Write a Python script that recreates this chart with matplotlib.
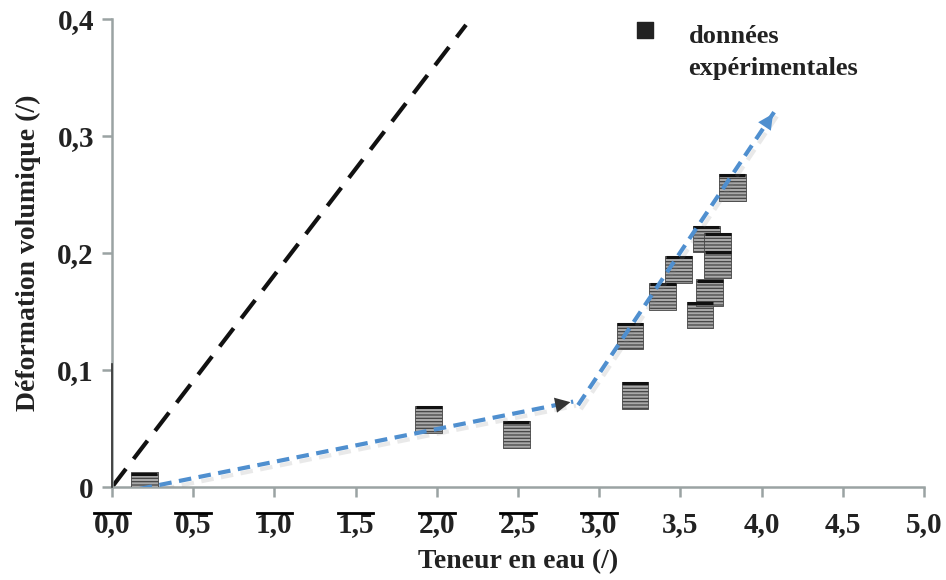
import numpy as np
import matplotlib
matplotlib.use("Agg")
import matplotlib.pyplot as plt
import matplotlib.patheffects as pe

plt.rcParams['font.family'] = ['Liberation Serif', 'DejaVu Serif']
plt.rcParams['hatch.color'] = '#2a2a2a'
plt.rcParams['hatch.linewidth'] = 0.9

# données expérimentales
teneur = [0.20, 1.95, 2.49, 3.22, 3.19, 3.39, 3.49, 3.62, 3.68, 3.66, 3.73, 3.73, 3.82]
deformation = [0.001, 0.058, 0.045, 0.078, 0.129, 0.163, 0.186, 0.147, 0.166, 0.212, 0.206, 0.190, 0.256]

# droite noire en tirets
ligne_x = [0.0, 2.18]
ligne_y = [0.0, 0.395]

# flèches bleues (début, fin)
fleche1 = [(0.05, -0.005), (2.84, 0.073)]
fleche2 = [(2.87, 0.070), (4.08, 0.321)]

xticks = [0.0, 0.5, 1.0, 1.5, 2.0, 2.5, 3.0, 3.5, 4.0, 4.5, 5.0]
xlabels = ['0,0', '0,5', '1,0', '1,5', '2,0', '2,5', '3,0', '3,5', '4,0', '4,5', '5,0']
yticks = [0.0, 0.1, 0.2, 0.3, 0.4]
ylabels = ['0', '0,1', '0,2', '0,3', '0,4']

fig = plt.figure(figsize=(9.46, 5.8), dpi=100)
ax = fig.add_axes([0.1184, 0.1603, 0.8583, 0.8069])

ax.plot(ligne_x, ligne_y, color='#111111', lw=3, dashes=(5.5, 3), zorder=2)

ax.scatter(teneur, deformation, marker='s', s=370, facecolor='#a9a9a9',
           edgecolor='#444444', linewidths=0.6, hatch='-----', zorder=3)
# bord supérieur sombre des carrés
ax.scatter(teneur, [d + 0.0105 for d in deformation], marker='_', s=370,
           color='#111111', linewidths=2.2, zorder=3)

bleu = '#4f8fcf'
ombre = [pe.SimpleLineShadow(offset=(2, -3), shadow_color='#888888', alpha=0.18, rho=1), pe.Normal()]
for (x0, y0), (x1, y1), tete in [(*fleche1, '#333333'), (*fleche2, bleu)]:
    ax.plot([x0, x1], [y0, y1], color=bleu, lw=3, dashes=(3, 1.8), zorder=4,
            path_effects=ombre)
    dx, dy = x1 - x0, y1 - y0
    ax.annotate('', xy=(x1, y1), xytext=(x1 - 0.02 * dx, y1 - 0.02 * dy),
                arrowprops=dict(arrowstyle='-|>,head_length=1.1,head_width=0.55',
                                color=tete, lw=0),
                zorder=5)

ax.set_xlim(0, 5)
ax.set_ylim(0, 0.4)
ax.set_xticks(xticks)
ax.set_xticklabels(xlabels)
ax.set_yticks(yticks)
ax.set_yticklabels(ylabels)
for lab in ax.get_xticklabels() + ax.get_yticklabels():
    lab.set_fontweight('bold')
    lab.set_fontsize(21)
    lab.set_color('#222222')

ax.spines['top'].set_visible(False)
ax.spines['right'].set_visible(False)
for s in ['left', 'bottom']:
    ax.spines[s].set_color('#9aa3a3')
    ax.spines[s].set_linewidth(1.8)
ax.tick_params(axis='both', direction='out', length=7, width=1.8, color='#9aa3a3')
ax.tick_params(axis='x', pad=10)
ax.tick_params(axis='y', pad=6)

# partie sombre de l'axe vertical
ax.plot([0, 0], [0, 0.105], color='#333333', lw=1.2, clip_on=False, zorder=6)

# barres au-dessus des étiquettes 0,0 à 3,0
trans = ax.get_xaxis_transform()
for t in xticks[:7]:
    ax.plot([t - 0.11, t + 0.11], [-0.055, -0.055], color='black', lw=2,
            transform=trans, clip_on=False)

ax.set_xlabel('Teneur en eau (/)', fontsize=20, fontweight='bold', color='#222222', labelpad=8)
ax.set_ylabel('Déformation volumique (/)', fontsize=20, fontweight='bold', color='#222222', labelpad=12)

# légende
ax.scatter([3.28], [0.391], marker='s', s=120, color='#222222', clip_on=False)
ax.text(3.55, 0.371, 'données\nexpérimentales', fontsize=19, fontweight='bold',
        color='#222222', va='center', ha='left', linespacing=1.5)

fig.savefig('out.png', dpi=100)
